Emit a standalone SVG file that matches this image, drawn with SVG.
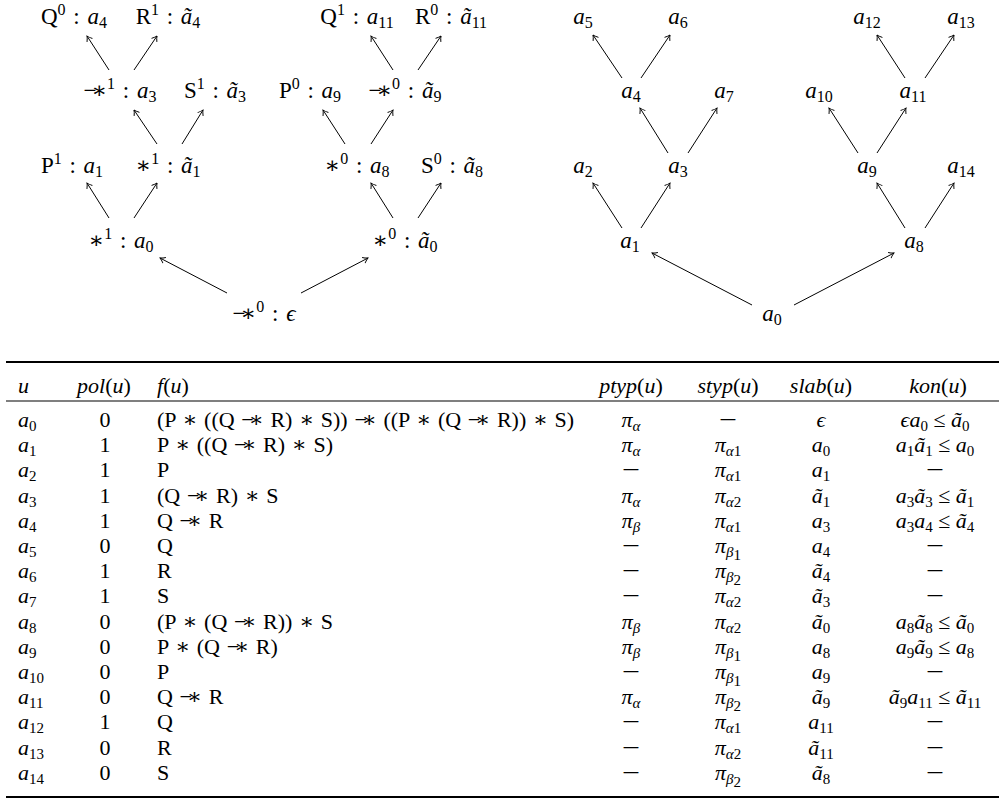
<svg xmlns="http://www.w3.org/2000/svg" width="1004" height="800" viewBox="0 0 1004 800">
<style>
text{font-family:"Liberation Serif","DejaVu Serif",serif;font-size:22px;fill:#000}
.i{font-style:italic}
.s{font-size:15px}
.op{font-family:"DejaVu Serif",serif;font-style:normal}
.mn{letter-spacing:-5px}
.m{text-anchor:middle}
.f{word-spacing:1.2px}
.tr{font-size:23px;word-spacing:2px}
.tr .s{font-size:16px}
.e{stroke:#000;stroke-width:1;fill:none;marker-end:url(#ah)}
.r1{stroke:#000;stroke-width:1.8}
.r2{stroke:#000;stroke-width:1.1}
</style>
<defs>
<marker id="ah" viewBox="-6 -4 7 8" refX="0" refY="0" markerWidth="7" markerHeight="8" markerUnits="userSpaceOnUse" orient="auto">
<path d="M-5,-3.2 Q-2,-0.8 0,0 Q-2,0.8 -5,3.2" fill="none" stroke="#000" stroke-width="0.9"/>
</marker>
</defs>
<rect width="1004" height="800" fill="#fff"/>

<g id="connectors">
<line class="e" x1="109" y1="70" x2="87" y2="36"/>
<line class="e" x1="134" y1="70" x2="157" y2="36"/>
<line class="e" x1="393" y1="70" x2="371" y2="36"/>
<line class="e" x1="418" y1="70" x2="441" y2="36"/>
<line class="e" x1="157" y1="144" x2="134" y2="110"/>
<line class="e" x1="182" y1="144" x2="203" y2="110"/>
<line class="e" x1="345" y1="144" x2="323" y2="110"/>
<line class="e" x1="371" y1="144" x2="393" y2="110"/>
<line class="e" x1="109" y1="218" x2="87" y2="183"/>
<line class="e" x1="134" y1="218" x2="157" y2="183"/>
<line class="e" x1="393" y1="218" x2="371" y2="183"/>
<line class="e" x1="418" y1="218" x2="441" y2="183"/>
<line class="e" x1="227" y1="293" x2="160" y2="258"/>
<line class="e" x1="301" y1="293" x2="368" y2="258"/>

<line class="e" x1="622" y1="78" x2="593" y2="35"/>
<line class="e" x1="641" y1="78" x2="670" y2="35"/>
<line class="e" x1="905" y1="78" x2="877" y2="35"/>
<line class="e" x1="925" y1="78" x2="954" y2="35"/>
<line class="e" x1="668" y1="153" x2="640" y2="108"/>
<line class="e" x1="688" y1="153" x2="717" y2="108"/>
<line class="e" x1="858" y1="153" x2="829" y2="108"/>
<line class="e" x1="877" y1="153" x2="906" y2="108"/>
<line class="e" x1="622" y1="228" x2="593" y2="183"/>
<line class="e" x1="641" y1="228" x2="670" y2="183"/>
<line class="e" x1="905" y1="228" x2="877" y2="183"/>
<line class="e" x1="925" y1="228" x2="954" y2="183"/>
<line class="e" x1="752" y1="305" x2="652" y2="253"/>
<line class="e" x1="794" y1="305" x2="894" y2="253"/>
</g>

<g id="L-a4"><text class="m tr" x="74" y="24">Q<tspan class="s" dy="-9">0</tspan><tspan dy="9"> : </tspan><tspan class="i">a</tspan><tspan class="s" dy="4">4</tspan></text></g>
<g id="L-ta4"><text class="m tr" x="168" y="24">R<tspan class="s" dy="-9">1</tspan><tspan dy="9"> : </tspan><tspan class="i">ã</tspan><tspan class="s" dy="4">4</tspan></text></g>
<g id="L-a11"><text class="m tr" x="357" y="24">Q<tspan class="s" dy="-9">1</tspan><tspan dy="9"> : </tspan><tspan class="i">a</tspan><tspan class="s" dy="4">11</tspan></text></g>
<g id="L-ta11"><text class="m tr" x="451" y="24">R<tspan class="s" dy="-9">0</tspan><tspan dy="9"> : </tspan><tspan class="i">ã</tspan><tspan class="s" dy="4">11</tspan></text></g>

<g id="L-a3"><text class="m tr" x="120" y="98"><tspan class="mn">−</tspan><tspan class="op">∗</tspan><tspan class="s" dy="-9">1</tspan><tspan dy="9"> : </tspan><tspan class="i">a</tspan><tspan class="s" dy="4">3</tspan></text></g>
<g id="L-ta3"><text class="m tr" x="215" y="98">S<tspan class="s" dy="-9">1</tspan><tspan dy="9"> : </tspan><tspan class="i">ã</tspan><tspan class="s" dy="4">3</tspan></text></g>
<g id="L-a9"><text class="m tr" x="310" y="98">P<tspan class="s" dy="-9">0</tspan><tspan dy="9"> : </tspan><tspan class="i">a</tspan><tspan class="s" dy="4">9</tspan></text></g>
<g id="L-ta9"><text class="m tr" x="405" y="98"><tspan class="mn">−</tspan><tspan class="op">∗</tspan><tspan class="s" dy="-9">0</tspan><tspan dy="9"> : </tspan><tspan class="i">ã</tspan><tspan class="s" dy="4">9</tspan></text></g>

<g id="L-a1"><text class="m tr" x="72" y="173">P<tspan class="s" dy="-9">1</tspan><tspan dy="9"> : </tspan><tspan class="i">a</tspan><tspan class="s" dy="4">1</tspan></text></g>
<g id="L-ta1"><text class="m tr" x="168" y="173"><tspan class="op">∗</tspan><tspan class="s" dy="-9">1</tspan><tspan dy="9"> : </tspan><tspan class="i">ã</tspan><tspan class="s" dy="4">1</tspan></text></g>
<g id="L-a8"><text class="m tr" x="357" y="173"><tspan class="op">∗</tspan><tspan class="s" dy="-9">0</tspan><tspan dy="9"> : </tspan><tspan class="i">a</tspan><tspan class="s" dy="4">8</tspan></text></g>
<g id="L-ta8"><text class="m tr" x="452" y="173">S<tspan class="s" dy="-9">0</tspan><tspan dy="9"> : </tspan><tspan class="i">ã</tspan><tspan class="s" dy="4">8</tspan></text></g>

<g id="L-a0"><text class="m tr" x="121" y="248"><tspan class="op">∗</tspan><tspan class="s" dy="-9">1</tspan><tspan dy="9"> : </tspan><tspan class="i">a</tspan><tspan class="s" dy="4">0</tspan></text></g>
<g id="L-ta0"><text class="m tr" x="405" y="248"><tspan class="op">∗</tspan><tspan class="s" dy="-9">0</tspan><tspan dy="9"> : </tspan><tspan class="i">ã</tspan><tspan class="s" dy="4">0</tspan></text></g>
<g id="L-root"><text class="m tr" x="264" y="321"><tspan class="mn">−</tspan><tspan class="op">∗</tspan><tspan class="s" dy="-9">0</tspan><tspan dy="9"> : </tspan><tspan class="i">ϵ</tspan></text></g>

<g id="R-a5"><text class="m tr" x="583" y="24"><tspan class="i">a</tspan><tspan class="s" dy="4">5</tspan></text></g>
<g id="R-a6"><text class="m tr" x="678" y="24"><tspan class="i">a</tspan><tspan class="s" dy="4">6</tspan></text></g>
<g id="R-a12"><text class="m tr" x="867" y="24"><tspan class="i">a</tspan><tspan class="s" dy="4">12</tspan></text></g>
<g id="R-a13"><text class="m tr" x="961" y="24"><tspan class="i">a</tspan><tspan class="s" dy="4">13</tspan></text></g>
<g id="R-a4"><text class="m tr" x="631" y="98"><tspan class="i">a</tspan><tspan class="s" dy="4">4</tspan></text></g>
<g id="R-a7"><text class="m tr" x="724" y="98"><tspan class="i">a</tspan><tspan class="s" dy="4">7</tspan></text></g>
<g id="R-a10"><text class="m tr" x="819" y="98"><tspan class="i">a</tspan><tspan class="s" dy="4">10</tspan></text></g>
<g id="R-a11"><text class="m tr" x="913" y="98"><tspan class="i">a</tspan><tspan class="s" dy="4">11</tspan></text></g>
<g id="R-a2"><text class="m tr" x="583" y="173"><tspan class="i">a</tspan><tspan class="s" dy="4">2</tspan></text></g>
<g id="R-a3"><text class="m tr" x="678" y="173"><tspan class="i">a</tspan><tspan class="s" dy="4">3</tspan></text></g>
<g id="R-a9"><text class="m tr" x="867" y="173"><tspan class="i">a</tspan><tspan class="s" dy="4">9</tspan></text></g>
<g id="R-a14"><text class="m tr" x="961" y="173"><tspan class="i">a</tspan><tspan class="s" dy="4">14</tspan></text></g>
<g id="R-a1"><text class="m tr" x="630" y="248"><tspan class="i">a</tspan><tspan class="s" dy="4">1</tspan></text></g>
<g id="R-a8"><text class="m tr" x="914" y="248"><tspan class="i">a</tspan><tspan class="s" dy="4">8</tspan></text></g>
<g id="R-a0"><text class="m tr" x="772" y="321"><tspan class="i">a</tspan><tspan class="s" dy="4">0</tspan></text></g>

<g id="table">
<line class="r1" x1="6" y1="362" x2="999" y2="362"/>
<line class="r2" x1="6" y1="401" x2="999" y2="401"/>
<line class="r1" x1="6" y1="797" x2="999" y2="797"/>

<text x="18" y="393" class="i">u</text>
<text x="104" y="393" class="m"><tspan class="i">pol</tspan>(<tspan class="i">u</tspan>)</text>
<text x="157" y="393"><tspan class="i">f</tspan>(<tspan class="i">u</tspan>)</text>
<text x="631" y="393" class="m"><tspan class="i">ptyp</tspan>(<tspan class="i">u</tspan>)</text>
<text x="728" y="393" class="m"><tspan class="i">styp</tspan>(<tspan class="i">u</tspan>)</text>
<text x="821" y="393" class="m"><tspan class="i">slab</tspan>(<tspan class="i">u</tspan>)</text>
<text x="938" y="393" class="m"><tspan class="i">kon</tspan>(<tspan class="i">u</tspan>)</text>

<!-- a0 -->
<text x="18" y="427"><tspan class="i">a</tspan><tspan class="s" dy="4">0</tspan></text>
<text x="105" y="427" class="m">0</text>
<text x="157" y="427" class="f">(P <tspan class="op">∗</tspan> ((Q <tspan class="mn">−</tspan><tspan class="op">∗</tspan> R) <tspan class="op">∗</tspan> S)) <tspan class="mn">−</tspan><tspan class="op">∗</tspan> ((P <tspan class="op">∗</tspan> (Q <tspan class="mn">−</tspan><tspan class="op">∗</tspan> R)) <tspan class="op">∗</tspan> S)</text>
<text x="631" y="427" class="m"><tspan class="i">π</tspan><tspan class="s i" dy="4">α</tspan></text>
<text class="m" transform="translate(728,427) scale(1.45,1)">−</text>
<text x="821" y="427" class="m i">ϵ</text>
<text x="935" y="427" class="m"><tspan class="i">ϵa</tspan><tspan class="s" dy="4">0</tspan><tspan dy="-4"> ≤ </tspan><tspan class="i">ã</tspan><tspan class="s" dy="4">0</tspan></text>

<!-- a1 -->
<text x="18" y="452.2"><tspan class="i">a</tspan><tspan class="s" dy="4">1</tspan></text>
<text x="105" y="452.2" class="m">1</text>
<text x="157" y="452.2" class="f">P <tspan class="op">∗</tspan> ((Q <tspan class="mn">−</tspan><tspan class="op">∗</tspan> R) <tspan class="op">∗</tspan> S)</text>
<text x="631" y="452.2" class="m"><tspan class="i">π</tspan><tspan class="s i" dy="4">α</tspan></text>
<text x="728" y="452.2" class="m"><tspan class="i">π</tspan><tspan class="s i" dy="4">α</tspan><tspan class="s">1</tspan></text>
<text x="821" y="452.2" class="m"><tspan class="i">a</tspan><tspan class="s" dy="4">0</tspan></text>
<text x="935" y="452.2" class="m"><tspan class="i">a</tspan><tspan class="s" dy="4">1</tspan><tspan class="i" dy="-4">ã</tspan><tspan class="s" dy="4">1</tspan><tspan dy="-4"> ≤ </tspan><tspan class="i">a</tspan><tspan class="s" dy="4">0</tspan></text>

<!-- a2 -->
<text x="18" y="477.4"><tspan class="i">a</tspan><tspan class="s" dy="4">2</tspan></text>
<text x="105" y="477.4" class="m">1</text>
<text x="157" y="477.4">P</text>
<text class="m" transform="translate(631,477.4) scale(1.45,1)">−</text>
<text x="728" y="477.4" class="m"><tspan class="i">π</tspan><tspan class="s i" dy="4">α</tspan><tspan class="s">1</tspan></text>
<text x="821" y="477.4" class="m"><tspan class="i">a</tspan><tspan class="s" dy="4">1</tspan></text>
<text class="m" transform="translate(935,477.4) scale(1.45,1)">−</text>

<!-- a3 -->
<text x="18" y="502.6"><tspan class="i">a</tspan><tspan class="s" dy="4">3</tspan></text>
<text x="105" y="502.6" class="m">1</text>
<text x="157" y="502.6" class="f">(Q <tspan class="mn">−</tspan><tspan class="op">∗</tspan> R) <tspan class="op">∗</tspan> S</text>
<text x="631" y="502.6" class="m"><tspan class="i">π</tspan><tspan class="s i" dy="4">α</tspan></text>
<text x="728" y="502.6" class="m"><tspan class="i">π</tspan><tspan class="s i" dy="4">α</tspan><tspan class="s">2</tspan></text>
<text x="821" y="502.6" class="m"><tspan class="i">ã</tspan><tspan class="s" dy="4">1</tspan></text>
<text x="935" y="502.6" class="m"><tspan class="i">a</tspan><tspan class="s" dy="4">3</tspan><tspan class="i" dy="-4">ã</tspan><tspan class="s" dy="4">3</tspan><tspan dy="-4"> ≤ </tspan><tspan class="i">ã</tspan><tspan class="s" dy="4">1</tspan></text>

<!-- a4 -->
<text x="18" y="527.8"><tspan class="i">a</tspan><tspan class="s" dy="4">4</tspan></text>
<text x="105" y="527.8" class="m">1</text>
<text x="157" y="527.8" class="f">Q <tspan class="mn">−</tspan><tspan class="op">∗</tspan> R</text>
<text x="631" y="527.8" class="m"><tspan class="i">π</tspan><tspan class="s i" dy="4">β</tspan></text>
<text x="728" y="527.8" class="m"><tspan class="i">π</tspan><tspan class="s i" dy="4">α</tspan><tspan class="s">1</tspan></text>
<text x="821" y="527.8" class="m"><tspan class="i">a</tspan><tspan class="s" dy="4">3</tspan></text>
<text x="935" y="527.8" class="m"><tspan class="i">a</tspan><tspan class="s" dy="4">3</tspan><tspan class="i" dy="-4">a</tspan><tspan class="s" dy="4">4</tspan><tspan dy="-4"> ≤ </tspan><tspan class="i">ã</tspan><tspan class="s" dy="4">4</tspan></text>

<!-- a5 -->
<text x="18" y="553"><tspan class="i">a</tspan><tspan class="s" dy="4">5</tspan></text>
<text x="105" y="553" class="m">0</text>
<text x="157" y="553">Q</text>
<text class="m" transform="translate(631,553) scale(1.45,1)">−</text>
<text x="728" y="553" class="m"><tspan class="i">π</tspan><tspan class="s i" dy="4">β</tspan><tspan class="s" dy="3">1</tspan></text>
<text x="821" y="553" class="m"><tspan class="i">a</tspan><tspan class="s" dy="4">4</tspan></text>
<text class="m" transform="translate(935,553) scale(1.45,1)">−</text>

<!-- a6 -->
<text x="18" y="578.2"><tspan class="i">a</tspan><tspan class="s" dy="4">6</tspan></text>
<text x="105" y="578.2" class="m">1</text>
<text x="157" y="578.2">R</text>
<text class="m" transform="translate(631,578.2) scale(1.45,1)">−</text>
<text x="728" y="578.2" class="m"><tspan class="i">π</tspan><tspan class="s i" dy="4">β</tspan><tspan class="s" dy="3">2</tspan></text>
<text x="821" y="578.2" class="m"><tspan class="i">ã</tspan><tspan class="s" dy="4">4</tspan></text>
<text class="m" transform="translate(935,578.2) scale(1.45,1)">−</text>

<!-- a7 -->
<text x="18" y="603.4"><tspan class="i">a</tspan><tspan class="s" dy="4">7</tspan></text>
<text x="105" y="603.4" class="m">1</text>
<text x="157" y="603.4">S</text>
<text class="m" transform="translate(631,603.4) scale(1.45,1)">−</text>
<text x="728" y="603.4" class="m"><tspan class="i">π</tspan><tspan class="s i" dy="4">α</tspan><tspan class="s">2</tspan></text>
<text x="821" y="603.4" class="m"><tspan class="i">ã</tspan><tspan class="s" dy="4">3</tspan></text>
<text class="m" transform="translate(935,603.4) scale(1.45,1)">−</text>

<!-- a8 -->
<text x="18" y="628.6"><tspan class="i">a</tspan><tspan class="s" dy="4">8</tspan></text>
<text x="105" y="628.6" class="m">0</text>
<text x="157" y="628.6" class="f">(P <tspan class="op">∗</tspan> (Q <tspan class="mn">−</tspan><tspan class="op">∗</tspan> R)) <tspan class="op">∗</tspan> S</text>
<text x="631" y="628.6" class="m"><tspan class="i">π</tspan><tspan class="s i" dy="4">β</tspan></text>
<text x="728" y="628.6" class="m"><tspan class="i">π</tspan><tspan class="s i" dy="4">α</tspan><tspan class="s">2</tspan></text>
<text x="821" y="628.6" class="m"><tspan class="i">ã</tspan><tspan class="s" dy="4">0</tspan></text>
<text x="935" y="628.6" class="m"><tspan class="i">a</tspan><tspan class="s" dy="4">8</tspan><tspan class="i" dy="-4">ã</tspan><tspan class="s" dy="4">8</tspan><tspan dy="-4"> ≤ </tspan><tspan class="i">ã</tspan><tspan class="s" dy="4">0</tspan></text>

<!-- a9 -->
<text x="18" y="653.8"><tspan class="i">a</tspan><tspan class="s" dy="4">9</tspan></text>
<text x="105" y="653.8" class="m">0</text>
<text x="157" y="653.8" class="f">P <tspan class="op">∗</tspan> (Q <tspan class="mn">−</tspan><tspan class="op">∗</tspan> R)</text>
<text x="631" y="653.8" class="m"><tspan class="i">π</tspan><tspan class="s i" dy="4">β</tspan></text>
<text x="728" y="653.8" class="m"><tspan class="i">π</tspan><tspan class="s i" dy="4">β</tspan><tspan class="s" dy="3">1</tspan></text>
<text x="821" y="653.8" class="m"><tspan class="i">a</tspan><tspan class="s" dy="4">8</tspan></text>
<text x="935" y="653.8" class="m"><tspan class="i">a</tspan><tspan class="s" dy="4">9</tspan><tspan class="i" dy="-4">ã</tspan><tspan class="s" dy="4">9</tspan><tspan dy="-4"> ≤ </tspan><tspan class="i">a</tspan><tspan class="s" dy="4">8</tspan></text>

<!-- a10 -->
<text x="18" y="679"><tspan class="i">a</tspan><tspan class="s" dy="4">10</tspan></text>
<text x="105" y="679" class="m">0</text>
<text x="157" y="679">P</text>
<text class="m" transform="translate(631,679) scale(1.45,1)">−</text>
<text x="728" y="679" class="m"><tspan class="i">π</tspan><tspan class="s i" dy="4">β</tspan><tspan class="s" dy="3">1</tspan></text>
<text x="821" y="679" class="m"><tspan class="i">a</tspan><tspan class="s" dy="4">9</tspan></text>
<text class="m" transform="translate(935,679) scale(1.45,1)">−</text>

<!-- a11 -->
<text x="18" y="704.2"><tspan class="i">a</tspan><tspan class="s" dy="4">11</tspan></text>
<text x="105" y="704.2" class="m">0</text>
<text x="157" y="704.2" class="f">Q <tspan class="mn">−</tspan><tspan class="op">∗</tspan> R</text>
<text x="631" y="704.2" class="m"><tspan class="i">π</tspan><tspan class="s i" dy="4">α</tspan></text>
<text x="728" y="704.2" class="m"><tspan class="i">π</tspan><tspan class="s i" dy="4">β</tspan><tspan class="s" dy="3">2</tspan></text>
<text x="821" y="704.2" class="m"><tspan class="i">ã</tspan><tspan class="s" dy="4">9</tspan></text>
<text x="935" y="704.2" class="m"><tspan class="i">ã</tspan><tspan class="s" dy="4">9</tspan><tspan class="i" dy="-4">a</tspan><tspan class="s" dy="4">11</tspan><tspan dy="-4"> ≤ </tspan><tspan class="i">ã</tspan><tspan class="s" dy="4">11</tspan></text>

<!-- a12 -->
<text x="18" y="729.4"><tspan class="i">a</tspan><tspan class="s" dy="4">12</tspan></text>
<text x="105" y="729.4" class="m">1</text>
<text x="157" y="729.4">Q</text>
<text class="m" transform="translate(631,729.4) scale(1.45,1)">−</text>
<text x="728" y="729.4" class="m"><tspan class="i">π</tspan><tspan class="s i" dy="4">α</tspan><tspan class="s">1</tspan></text>
<text x="821" y="729.4" class="m"><tspan class="i">a</tspan><tspan class="s" dy="4">11</tspan></text>
<text class="m" transform="translate(935,729.4) scale(1.45,1)">−</text>

<!-- a13 -->
<text x="18" y="754.6"><tspan class="i">a</tspan><tspan class="s" dy="4">13</tspan></text>
<text x="105" y="754.6" class="m">0</text>
<text x="157" y="754.6">R</text>
<text class="m" transform="translate(631,754.6) scale(1.45,1)">−</text>
<text x="728" y="754.6" class="m"><tspan class="i">π</tspan><tspan class="s i" dy="4">α</tspan><tspan class="s">2</tspan></text>
<text x="821" y="754.6" class="m"><tspan class="i">ã</tspan><tspan class="s" dy="4">11</tspan></text>
<text class="m" transform="translate(935,754.6) scale(1.45,1)">−</text>

<!-- a14 -->
<text x="18" y="779.8"><tspan class="i">a</tspan><tspan class="s" dy="4">14</tspan></text>
<text x="105" y="779.8" class="m">0</text>
<text x="157" y="779.8">S</text>
<text class="m" transform="translate(631,779.8) scale(1.45,1)">−</text>
<text x="728" y="779.8" class="m"><tspan class="i">π</tspan><tspan class="s i" dy="4">β</tspan><tspan class="s" dy="3">2</tspan></text>
<text x="821" y="779.8" class="m"><tspan class="i">ã</tspan><tspan class="s" dy="4">8</tspan></text>
<text class="m" transform="translate(935,779.8) scale(1.45,1)">−</text>
</g>
</svg>
